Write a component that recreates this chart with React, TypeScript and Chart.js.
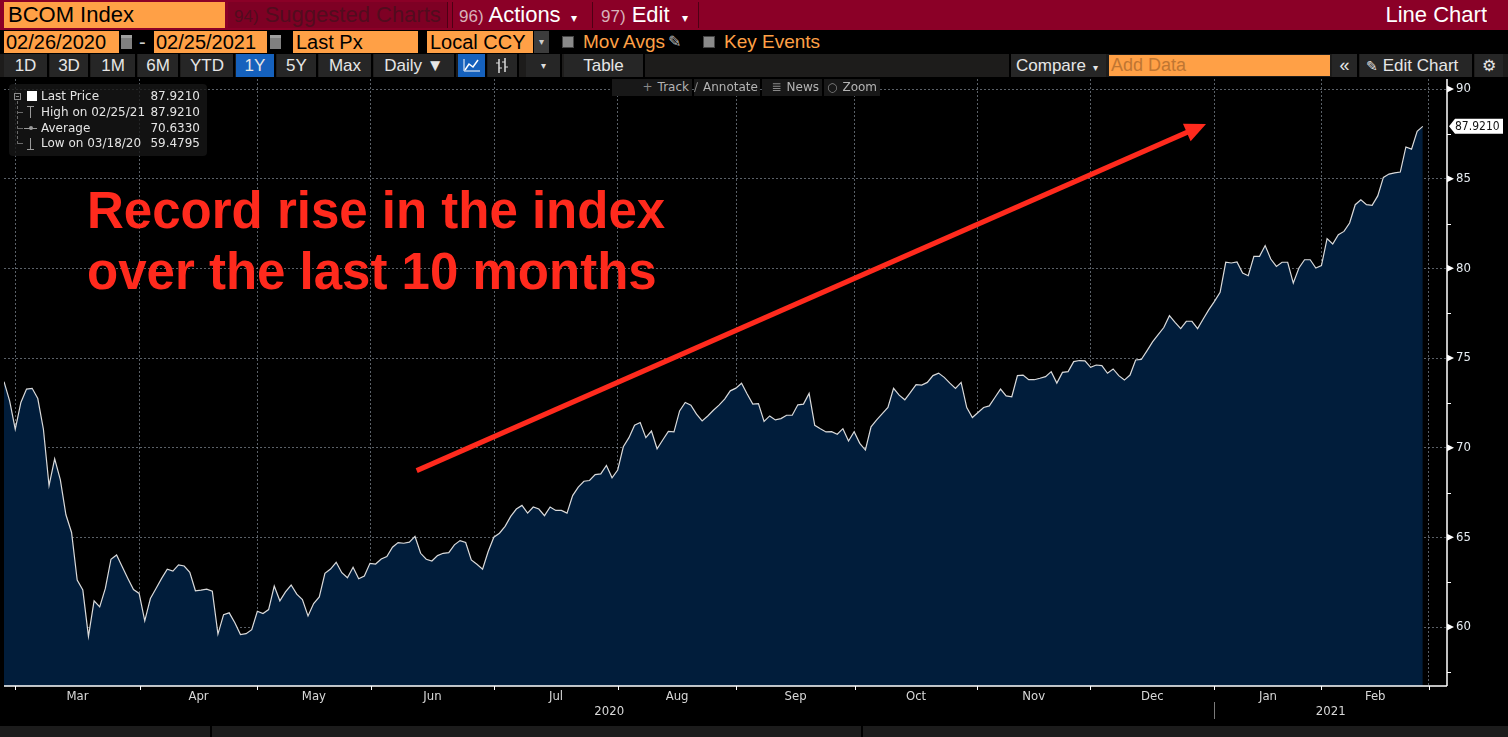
import React, { useEffect, useRef } from 'react';
import { Chart, registerables } from 'chart.js';

Chart.register(...registerables);

// ---- Data (BCOM Index daily close, 02/26/2020 - 02/25/2021, one value per trading day) ----
const prices: number[] = [
  73.68, 72.61, 71.03, 72.52, 73.27, 73.31, 72.74, 71.03, 67.89, 69.38,
  68.22, 66.26, 65.27, 62.62, 62.06, 59.4795, 61.46, 61.12, 62.15, 63.78,
  64.02, 63.36, 62.71, 62.09, 61.87, 60.34, 61.59, 62.15, 62.71, 63.22,
  63.12, 63.46, 63.40, 63.05, 62.02, 62.06, 62.11, 62.00, 59.60, 60.69,
  60.79, 60.24, 59.58, 59.63, 59.85, 60.88, 60.75, 60.97, 62.28, 61.46,
  61.96, 62.34, 61.83, 61.53, 60.62, 61.31, 61.68, 62.99, 63.23, 63.61,
  63.03, 62.75, 63.33, 62.69, 62.84, 63.55, 63.51, 63.79, 63.93, 64.45,
  64.71, 64.67, 64.73, 65.05, 64.11, 63.78, 63.68, 63.98, 64.11, 64.15,
  64.58, 64.82, 64.71, 63.74, 63.50, 63.23, 64.21, 65.01, 65.23, 65.61,
  66.17, 66.58, 66.78, 66.35, 66.69, 66.58, 66.21, 66.69, 66.50, 66.50,
  66.35, 67.33, 67.80, 68.13, 68.17, 68.50, 68.54, 69.01, 68.32, 68.75,
  70.05, 70.56, 71.25, 71.40, 70.56, 70.93, 69.94, 70.43, 70.91, 70.88,
  72.05, 72.52, 72.37, 71.87, 71.49, 71.77, 72.09, 72.37, 72.71, 73.17,
  73.32, 73.59, 72.99, 72.43, 72.46, 71.46, 71.77, 71.55, 71.62, 71.81,
  71.81, 72.39, 72.43, 73.03, 71.25, 71.06, 70.88, 70.89, 70.75, 71.06,
  70.37, 70.89, 70.24, 69.87, 71.16, 71.55, 71.90, 72.24, 73.31, 72.93,
  72.67, 73.08, 73.51, 73.49, 73.64, 74.02, 74.16, 73.92, 73.60, 73.31,
  73.64, 72.24, 71.68, 71.96, 72.24, 72.33, 72.80, 73.27, 72.89, 72.84,
  74.02, 74.05, 73.79, 73.79, 73.87, 73.96, 74.24, 73.60, 74.20, 74.24,
  74.80, 74.86, 74.84, 74.48, 74.61, 74.58, 74.15, 74.39, 74.02, 73.77,
  74.05, 74.89, 74.92, 75.40, 75.90, 76.30, 76.70, 77.36, 76.99, 76.64,
  77.05, 77.05, 76.64, 77.18, 77.70, 78.16, 78.66, 80.34, 80.30, 80.36,
  79.74, 79.59, 80.67, 80.67, 81.27, 80.52, 80.11, 80.34, 80.34, 79.18,
  80.02, 80.48, 80.48, 80.02, 80.15, 81.66, 81.36, 81.88, 82.06, 82.53,
  83.55, 83.83, 83.55, 83.51, 84.04, 85.07, 85.26, 85.32, 85.37, 86.77,
  86.65, 87.64, 87.921,
];

// month boundaries, in trading-day index units
const monthBoundaries = [2.0, 24.1, 45.0, 65.1, 87.1, 109.0, 130.1, 151.1, 172.9, 192.9, 215.0, 234.0, 253.1];
const monthLabels = ['Mar', 'Apr', 'May', 'Jun', 'Jul', 'Aug', 'Sep', 'Oct', 'Nov', 'Dec', 'Jan', 'Feb'];
const yearLabels = ['2020', '2021'];
const yearStartIndex = 215.0;
const yTickValues = [57.5, 60, 62.5, 65, 67.5, 70, 72.5, 75, 77.5, 80, 82.5, 85, 87.5, 90];
const yMajorStep = 5;
const xRange = [0, 256.3];
const yRange = [56.71, 90.56];
const lastPrice = 87.921;

const legendLabels = ['Last Price', 'High on 02/25/21', 'Average', 'Low on 03/18/20'];
const legendValues = ['87.9210', '87.9210', '70.6330', '59.4795'];

// annotation arrow in data coordinates (index, value)
const arrowStart = [73.3, 68.72];
const arrowEnd = [213.5, 88.05];
const annotationLines = ['Record rise in the index', 'over the last 10 months'];

// ---- Styles ----
const MAROON = '#8b0027';
const ORANGE = '#ffa046';
const AXIS_FONT = '"DejaVu Sans Condensed", "DejaVu Sans", sans-serif';
const GRID = 'rgba(150,160,172,0.6)';

const decorPlugin = {
  id: 'bbgDecor',
  afterDraw(chart: any) {
    const { ctx, chartArea: a, scales } = chart;
    const x = scales.x;
    const y = scales.y;
    ctx.save();
    ctx.setLineDash([]);
    // axis lines
    ctx.strokeStyle = '#ffffff';
    ctx.lineWidth = 1.5;
    ctx.beginPath();
    ctx.moveTo(a.left, a.bottom);
    ctx.lineTo(a.right, a.bottom);
    ctx.moveTo(a.right, a.top);
    ctx.lineTo(a.right, a.bottom);
    ctx.stroke();
    // x tick marks
    ctx.lineWidth = 1;
    ctx.beginPath();
    monthBoundaries.forEach((v) => {
      const px = Math.round(x.getPixelForValue(v)) + 0.5;
      ctx.moveTo(px, a.bottom);
      ctx.lineTo(px, a.bottom + 4);
    });
    ctx.stroke();
    // month labels
    ctx.fillStyle = '#d8d8d8';
    ctx.font = `13px ${AXIS_FONT}`;
    ctx.textAlign = 'center';
    ctx.textBaseline = 'middle';
    monthLabels.forEach((m, i) => {
      const c = (x.getPixelForValue(monthBoundaries[i]) + x.getPixelForValue(monthBoundaries[i + 1])) / 2;
      ctx.fillText(m, c, a.bottom + 11);
    });
    const ys = x.getPixelForValue(yearStartIndex);
    ctx.fillText(yearLabels[0], (a.left + ys) / 2, a.bottom + 26);
    ctx.fillText(yearLabels[1], (ys + a.right) / 2, a.bottom + 26);
    ctx.strokeStyle = '#7a7a7a';
    ctx.beginPath();
    ctx.moveTo(Math.round(ys) + 0.5, a.bottom + 16);
    ctx.lineTo(Math.round(ys) + 0.5, a.bottom + 33);
    ctx.stroke();
    // y tick markers
    ctx.fillStyle = '#ffffff';
    ctx.strokeStyle = '#ffffff';
    yTickValues.forEach((v) => {
      const py = y.getPixelForValue(v);
      if (v % yMajorStep === 0) {
        ctx.beginPath();
        ctx.moveTo(a.right, py - 3.5);
        ctx.lineTo(a.right + 7, py);
        ctx.lineTo(a.right, py + 3.5);
        ctx.closePath();
        ctx.fill();
      } else {
        const yy = Math.round(py) + 0.5;
        ctx.beginPath();
        ctx.moveTo(a.right, yy);
        ctx.lineTo(a.right + 4, yy);
        ctx.stroke();
      }
    });
    // last price tag
    const ty = y.getPixelForValue(lastPrice);
    ctx.fillStyle = '#ffffff';
    ctx.beginPath();
    ctx.moveTo(a.right + 2, ty);
    ctx.lineTo(a.right + 8, ty - 7.5);
    ctx.lineTo(a.right + 56, ty - 7.5);
    ctx.lineTo(a.right + 56, ty + 7.5);
    ctx.lineTo(a.right + 8, ty + 7.5);
    ctx.closePath();
    ctx.fill();
    ctx.fillStyle = '#111111';
    ctx.font = `12px ${AXIS_FONT}`;
    ctx.textAlign = 'left';
    ctx.fillText(lastPrice.toFixed(4), a.right + 8, ty + 0.5);
    // red arrow
    const sx = x.getPixelForValue(arrowStart[0]);
    const sy = y.getPixelForValue(arrowStart[1]);
    const ex = x.getPixelForValue(arrowEnd[0]);
    const ey = y.getPixelForValue(arrowEnd[1]);
    const ang = Math.atan2(ey - sy, ex - sx);
    const hl = 21;
    const hw = 9.5;
    const bx = ex - hl * Math.cos(ang);
    const by = ey - hl * Math.sin(ang);
    ctx.strokeStyle = '#ff2a1d';
    ctx.fillStyle = '#ff2a1d';
    ctx.lineWidth = 5;
    ctx.lineCap = 'butt';
    ctx.beginPath();
    ctx.moveTo(sx, sy);
    ctx.lineTo(bx + 2 * Math.cos(ang), by + 2 * Math.sin(ang));
    ctx.stroke();
    ctx.beginPath();
    ctx.moveTo(ex, ey);
    ctx.lineTo(bx + hw * Math.sin(ang), by - hw * Math.cos(ang));
    ctx.lineTo(bx - hw * Math.sin(ang), by + hw * Math.cos(ang));
    ctx.closePath();
    ctx.fill();
    ctx.restore();
  },
};

const abs = (l: number, t: number, w: number, h: number, extra: any = {}): any => ({
  position: 'absolute', left: l, top: t, width: w, height: h, boxSizing: 'border-box', whiteSpace: 'nowrap', overflow: 'hidden', ...extra,
});

const rowButtons: [string, number, number, boolean][] = [
  ['1D', 4, 49, false], ['3D', 50, 90, false], ['1M', 91, 137, false], ['6M', 138, 180, false],
  ['YTD', 181, 235, false], ['1Y', 236, 276, true], ['5Y', 277, 318, false], ['Max', 319, 373, false],
  ['Daily \u25BC', 374, 456, false],
];

export default function App() {
  const canvasRef = useRef<HTMLCanvasElement>(null);

  useEffect(() => {
    const points = prices.map((v, i) => ({ x: i, y: v }));
    const chart = new Chart(canvasRef.current as HTMLCanvasElement, {
      type: 'line',
      data: {
        datasets: [
          {
            data: points,
            borderColor: '#dadada',
            borderWidth: 1.2,
            backgroundColor: '#011d3b',
            fill: 'start',
            pointRadius: 0,
            tension: 0,
          },
        ],
      },
      options: {
        animation: false,
        responsive: false,
        events: [],
        layout: { padding: { left: 4, top: 2, right: 0, bottom: 0 } },
        plugins: { legend: { display: false }, tooltip: { enabled: false } },
        scales: {
          x: {
            type: 'linear',
            min: xRange[0],
            max: xRange[1],
            z: 1,
            afterBuildTicks: (s: any) => {
              s.ticks = monthBoundaries.map((v) => ({ value: v }));
            },
            afterFit: (s: any) => {
              s.height = 40;
              s.paddingLeft = 0;
              s.paddingRight = 0;
            },
            grid: { color: GRID, lineWidth: 1, drawTicks: false },
            border: { display: false, dash: [2, 2] },
            ticks: { display: false },
          },
          y: {
            type: 'linear',
            position: 'right',
            min: yRange[0],
            max: yRange[1],
            z: 1,
            afterBuildTicks: (s: any) => {
              s.ticks = yTickValues.map((v) => ({ value: v }));
            },
            afterFit: (s: any) => {
              s.width = 61;
              s.paddingTop = 0;
              s.paddingBottom = 0;
            },
            grid: {
              color: (c: any) => (c.tick && c.tick.value % yMajorStep === 0 ? GRID : 'rgba(0,0,0,0)'),
              drawTicks: false,
            },
            border: { display: false, dash: [2, 2] },
            ticks: {
              padding: 9,
              color: '#e6ecf2',
              autoSkip: false,
              font: { family: AXIS_FONT, size: 13 },
              callback: (v: any) => (Number(v) % yMajorStep === 0 ? String(v) : ''),
            },
          },
        },
      } as any,
      plugins: [decorPlugin],
    });
    return () => chart.destroy();
  }, []);

  const txt = '#e4e4e4';
  const legendFont = '"DejaVu Sans", sans-serif';
  const legendRowCenters = [96, 112, 128, 143];

  return (
    <div style={{ position: 'relative', width: 1508, height: 737, background: '#000', overflow: 'hidden', fontFamily: '"Liberation Sans", Arial, sans-serif' }}>
      <style>{'body{margin:0;background:#000;}'}</style>

      {/* Row 1 */}
      <div style={abs(0, 0, 1508, 30, { background: MAROON })} />
      <div style={abs(4, 2, 221, 26, { background: ORANGE, color: '#000', fontSize: 22, lineHeight: '26px', paddingLeft: 4 })}>BCOM Index</div>
      <div style={abs(228, 2, 220, 26, { background: '#7e0024', borderRight: '1px solid #4e0014', color: '#520c1e', fontSize: 22, lineHeight: '26px', paddingLeft: 6 })}>
        <span style={{ fontSize: 17 }}>94)</span> Suggested Charts
      </div>
      <div style={abs(452, 2, 141, 26, { borderLeft: '1px solid #4e0014', borderRight: '1px solid #4e0014', color: '#fff', fontSize: 22, lineHeight: '26px', paddingLeft: 6 })}>
        <span style={{ fontSize: 17, color: '#d8b2ba' }}>96)</span> Actions <span style={{ fontSize: 12, marginLeft: 4 }}>{'\u25BE'}</span>
      </div>
      <div style={abs(595, 2, 104, 26, { borderRight: '1px solid #4e0014', color: '#fff', fontSize: 22, lineHeight: '26px', paddingLeft: 6 })}>
        <span style={{ fontSize: 17, color: '#d8b2ba' }}>97)</span> Edit <span style={{ fontSize: 12, marginLeft: 6 }}>{'\u25BE'}</span>
      </div>
      <div style={abs(1300, 2, 187, 26, { color: '#fff', fontSize: 22, lineHeight: '26px', textAlign: 'right' })}>Line Chart</div>

      {/* Row 2 */}
      <div style={abs(4, 31, 115, 22, { background: ORANGE, color: '#000', fontSize: 20, lineHeight: '22px', paddingLeft: 2 })}>02/26/2020</div>
      <div style={abs(121, 35, 11, 14, { background: '#808080', borderTop: '3px solid #a0a0a0' })} />
      <div style={abs(139, 31, 12, 22, { color: '#cfcfcf', fontSize: 20, lineHeight: '22px' })}>-</div>
      <div style={abs(154, 31, 113, 22, { background: ORANGE, color: '#000', fontSize: 20, lineHeight: '22px', paddingLeft: 2 })}>02/25/2021</div>
      <div style={abs(270, 35, 11, 14, { background: '#808080', borderTop: '3px solid #a0a0a0' })} />
      <div style={abs(293, 31, 125, 22, { background: ORANGE, color: '#000', fontSize: 20, lineHeight: '22px', paddingLeft: 3 })}>Last Px</div>
      <div style={abs(427, 31, 106, 22, { background: ORANGE, color: '#000', fontSize: 20, lineHeight: '22px', paddingLeft: 3 })}>Local CCY</div>
      <div style={abs(534, 31, 15, 22, { background: '#3c3c3c', color: '#cfcfcf', fontSize: 10, lineHeight: '22px', textAlign: 'center' })}>{'\u25BE'}</div>
      <div style={abs(562, 36, 12, 12, { background: '#8a8a8a', border: '1px solid #444' })} />
      <div style={abs(583, 31, 90, 22, { color: ORANGE, fontSize: 19, lineHeight: '22px' })}>Mov Avgs</div>
      <div style={abs(668, 31, 20, 22, { color: '#b8b8b8', fontSize: 16, lineHeight: '22px' })}>{'\u270E'}</div>
      <div style={abs(703, 36, 12, 12, { background: '#8a8a8a', border: '1px solid #444' })} />
      <div style={abs(724, 31, 110, 22, { color: ORANGE, fontSize: 19, lineHeight: '22px' })}>Key Events</div>

      {/* Row 3 */}
      <div style={abs(0, 54, 1508, 23, { background: '#1d1c1b' })} />
      {rowButtons.map(([label, l, r, active]) => (
        <div key={label} style={abs(l, 54, r - l, 23, { background: active ? '#1561bd' : '#262626', borderRight: '2px solid #000', color: '#e6e6e6', fontSize: 17, lineHeight: '23px', textAlign: 'center' })}>{label}</div>
      ))}
      <div style={abs(458, 54, 29, 23, { background: '#1561bd', borderRight: '2px solid #000' })}>
        <svg width="27" height="23"><polyline points="7,16 11,10 15,13 20,6" fill="none" stroke="#fff" strokeWidth="1.5" /><polyline points="6,5 6,17 22,17" fill="none" stroke="#fff" strokeWidth="1" /></svg>
      </div>
      <div style={abs(488, 54, 31, 23, { background: '#262626', borderRight: '2px solid #000' })}>
        <svg width="29" height="23"><line x1="11" y1="5" x2="11" y2="19" stroke="#ddd" strokeWidth="1.5" /><line x1="17" y1="4" x2="17" y2="18" stroke="#ddd" strokeWidth="1.5" /><line x1="8" y1="9" x2="11" y2="9" stroke="#ddd" /><line x1="11" y1="14" x2="14" y2="14" stroke="#ddd" /><line x1="14" y1="8" x2="17" y2="8" stroke="#ddd" /><line x1="17" y1="13" x2="20" y2="13" stroke="#ddd" /></svg>
      </div>
      <div style={abs(526, 54, 36, 23, { background: '#262626', borderRight: '2px solid #000', color: '#ddd', fontSize: 10, lineHeight: '23px', textAlign: 'center' })}>{'\u25BE'}</div>
      <div style={abs(564, 54, 81, 23, { background: '#262626', borderRight: '2px solid #000', color: '#e6e6e6', fontSize: 17, lineHeight: '23px', textAlign: 'center' })}>Table</div>
      <div style={abs(1009, 54, 97, 23, { background: '#262626', borderLeft: '2px solid #000', color: '#e6e6e6', fontSize: 17, lineHeight: '23px', paddingLeft: 5 })}>
        Compare <span style={{ fontSize: 10, marginLeft: 2 }}>{'\u25BE'}</span>
      </div>
      <div style={abs(1109, 55, 221, 21, { background: ORANGE, color: '#c07632', fontSize: 18, lineHeight: '21px', paddingLeft: 2 })}>Add Data</div>
      <div style={abs(1332, 54, 27, 23, { background: '#262626', borderRight: '2px solid #000', color: '#e6e6e6', fontSize: 18, lineHeight: '22px', textAlign: 'center' })}>{'\u00AB'}</div>
      <div style={abs(1360, 54, 114, 23, { background: '#262626', borderRight: '2px solid #000', color: '#e6e6e6', fontSize: 17, lineHeight: '23px', paddingLeft: 6 })}>
        <span style={{ fontSize: 14 }}>{'\u270E'}</span> Edit Chart
      </div>
      <div style={abs(1475, 54, 28, 23, { background: '#262626', color: '#e6e6e6', fontSize: 16, lineHeight: '23px', textAlign: 'center' })}>{'\u2699'}</div>

      {/* Chart */}
      <div style={abs(0, 77, 1508, 649)}>
        <canvas ref={canvasRef} width={1508} height={649} style={{ display: 'block' }} />
      </div>

      {/* Chart tool overlay */}
      {([['+', 'Track', 612, 80], ['\u2215', 'Annotate', 694, 66], ['\u2263', 'News', 762, 60], ['\u25CB', 'Zoom', 824, 56]] as [string, string, number, number][]).map(([ic, lb, l, w]) => (
        <div key={lb} style={abs(l, 79, w, 17, { background: '#181818', color: '#b4b4b4', fontSize: 12, lineHeight: '17px', textAlign: 'right', paddingRight: 3, fontFamily: legendFont })}>
          <span style={{ color: '#888', marginRight: 5 }}>{ic}</span>{lb}
        </div>
      ))}

      {/* Legend box */}
      <div style={abs(9, 84, 198, 72, { background: 'rgba(22,22,22,0.8)', borderRadius: 4 })} />
      <div style={abs(14, 93, 7, 7, { border: '1px solid #8a8a8a' })} />
      <div style={abs(16, 96, 3, 1, { background: '#8a8a8a' })} />
      <div style={abs(27, 91, 10, 10, { background: '#ffffff' })} />
      <div style={abs(17, 101, 1, 43, { borderLeft: '1px dashed #6a6a6a' })} />
      {[112, 128, 143].map((cy) => (
        <div key={cy} style={abs(18, cy, 5, 1, { background: '#6a6a6a' })} />
      ))}
      <div style={abs(27, 106, 7, 1, { background: '#9a9a9a' })} />
      <div style={abs(30, 106, 1, 12, { background: '#9a9a9a' })} />
      <div style={abs(24, 128, 13, 1, { background: '#9a9a9a' })} />
      <div style={abs(29, 126, 4, 4, { background: '#9a9a9a', borderRadius: 2 })} />
      <div style={abs(30, 138, 1, 11, { background: '#9a9a9a' })} />
      <div style={abs(27, 149, 7, 1, { background: '#9a9a9a' })} />
      {legendLabels.map((lb, i) => (
        <React.Fragment key={lb}>
          <div style={abs(41, legendRowCenters[i] - 8, 105, 16, { color: txt, fontSize: 12, lineHeight: '16px', fontFamily: legendFont })}>{lb}</div>
          <div style={abs(140, legendRowCenters[i] - 8, 60, 16, { color: txt, fontSize: 12, lineHeight: '16px', fontFamily: legendFont, textAlign: 'right' })}>{legendValues[i]}</div>
        </React.Fragment>
      ))}

      {/* Annotation text */}
      <div style={abs(87, 180, 660, 124, { color: '#ff2a1d', fontSize: 51, fontWeight: 'bold', lineHeight: '61px', fontFamily: '"Liberation Sans", Arial, sans-serif', overflow: 'visible' })}>
        {annotationLines.map((l) => (
          <div key={l}>{l}</div>
        ))}
      </div>

      {/* Bottom bar */}
      <div style={abs(0, 726, 1508, 11, { background: '#1c1c1c' })} />
      <div style={abs(210, 726, 2, 11, { background: '#000' })} />
      <div style={abs(861, 726, 2, 11, { background: '#000' })} />
    </div>
  );
}
